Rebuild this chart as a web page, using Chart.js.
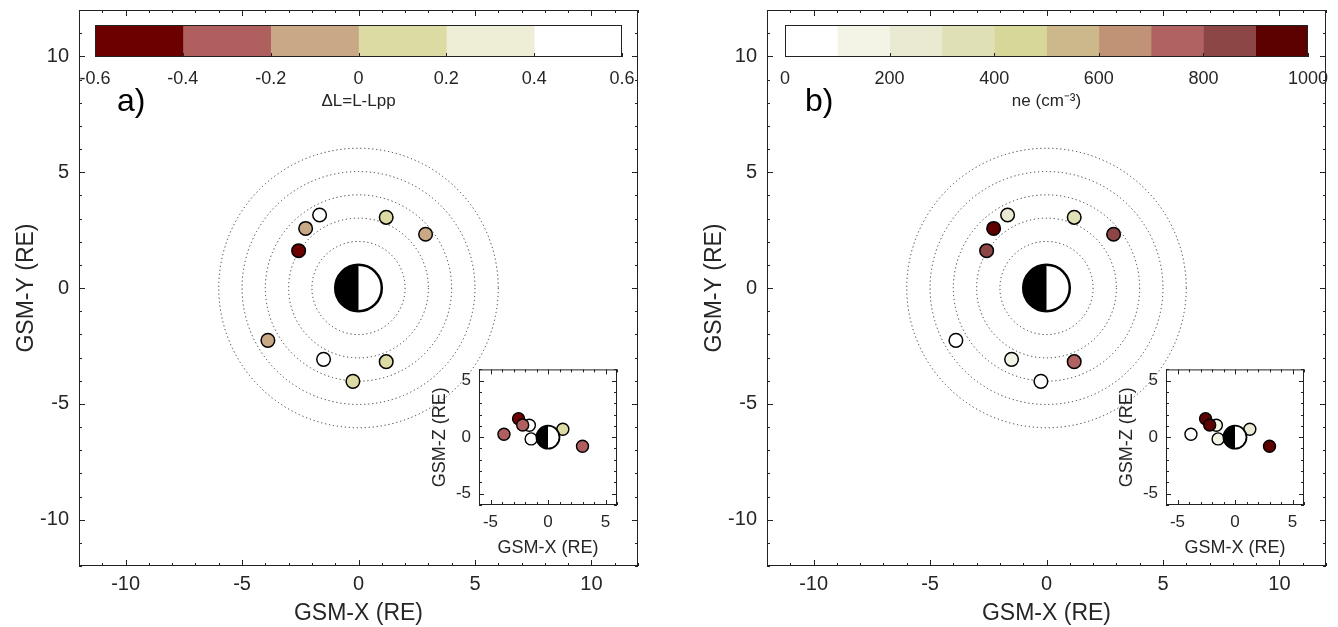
<!DOCTYPE html>
<html>
<head>
<meta charset="utf-8">
<script src="https://cdn.jsdelivr.net/npm/chart.js@4.4.0/dist/chart.umd.min.js"></script>
<style>
  body { margin: 0; background: #fff; width: 1338px; height: 627px; position: relative; overflow: hidden; }
  canvas { position: absolute; }
</style>
</head>
<body>
<canvas id="mainA" width="669" height="627" style="left:0;top:0"></canvas>
<canvas id="mainB" width="650" height="627" style="left:688px;top:0"></canvas>
<canvas id="barA" width="600" height="100" style="left:60px;top:15px"></canvas>
<canvas id="barB" width="588" height="100" style="left:750px;top:15px"></canvas>
<canvas id="insetA" width="200" height="200" style="left:425px;top:362px"></canvas>
<canvas id="insetB" width="200" height="200" style="left:1112px;top:362px"></canvas>
<script>
// orbit positions in the GSM X-Y plane (RE)
const orbitX = [-1.67, -2.27, -2.57, 1.19, 2.88, -3.89, -1.50, 1.19, -0.24];
const orbitY = [3.15, 2.57, 1.61, 3.05, 2.32, -2.26, -3.08, -3.18, -4.03];
const deltaL = [0.5, -0.1, -0.5, 0.1, -0.1, -0.1, 0.5, 0.1, 0.1];
const density = [250, 950, 850, 350, 850, 50, 150, 750, 50];

// same events seen in the X-Z plane
const insetX = [-2.56, -1.62, -2.20, -3.83, -1.47, 0.15, 1.29, 3.00];
const insetZ = [1.64, 1.06, 1.08, 0.26, -0.15, 0.35, 0.70, -0.80];
const insetDeltaL = [-0.5, 0.5, -0.3, -0.3, 0.5, 0.1, 0.1, -0.3];
const insetDensity = [950, 150, 950, 50, 150, 150, 250, 950];

const ringRadii = [2, 3, 4, 5, 6];
const earthRadius = 1;
const mainTicks = [-10, -5, 0, 5, 10];
const insetTicks = [-5, 0, 5];

const dLBounds = [-0.6, -0.4, -0.2, 0, 0.2, 0.4, 0.6];
const dLColors = ['#6c0000', '#b05f5f', '#c9a886', '#dcdba3', '#eeeed6', '#ffffff'];
const dLTicks = [-0.6, -0.4, -0.2, 0, 0.2, 0.4, 0.6];

const neBounds = [0, 100, 200, 300, 400, 500, 600, 700, 800, 900, 1000];
const neColors = ['#ffffff', '#f4f4e6', '#eaead2', '#e0e0b6', '#d7d79a', '#ccb88a', '#c09377', '#b06262', '#8c4646', '#5c0000'];
const neTicks = [0, 200, 400, 600, 800, 1000];

const FONT = "'Liberation Sans', Arial, Helvetica, sans-serif";
const INK = '#262626';
Chart.defaults.font.family = FONT;
Chart.defaults.color = INK;

function binColor(v, bounds, colors) {
  for (let i = 0; i < colors.length; i++) {
    if (v < bounds[i + 1]) return colors[i];
  }
  return colors[colors.length - 1];
}

const plotBg = {
  id: 'plotBg',
  beforeDraw(chart) {
    const { ctx, chartArea: a } = chart;
    ctx.save();
    ctx.fillStyle = '#fff';
    ctx.fillRect(a.left, a.top, a.right - a.left, a.bottom - a.top);
    ctx.restore();
  }
};

const rings = {
  id: 'rings',
  beforeDatasetsDraw(chart) {
    const { ctx, scales: { x, y } } = chart;
    const cx = x.getPixelForValue(0), cy = y.getPixelForValue(0);
    ctx.save();
    ctx.strokeStyle = '#333';
    ctx.lineWidth = 1;
    ctx.setLineDash([1.2, 2.8]);
    ringRadii.forEach(r => {
      const pr = x.getPixelForValue(r) - cx;
      ctx.beginPath();
      ctx.arc(cx, cy, pr, 0, 2 * Math.PI);
      ctx.stroke();
    });
    ctx.restore();
  }
};

const earth = {
  id: 'earth',
  afterDatasetsDraw(chart, args, opts) {
    const { ctx, scales: { x, y } } = chart;
    const cx = x.getPixelForValue(0), cy = y.getPixelForValue(0);
    const r = x.getPixelForValue(earthRadius) - cx;
    ctx.save();
    ctx.fillStyle = '#fff';
    ctx.beginPath(); ctx.arc(cx, cy, r, 0, 2 * Math.PI); ctx.fill();
    ctx.fillStyle = '#000';
    ctx.beginPath(); ctx.arc(cx, cy, r, Math.PI / 2, 3 * Math.PI / 2); ctx.closePath(); ctx.fill();
    ctx.strokeStyle = '#000';
    ctx.lineWidth = opts.width || 2.5;
    ctx.beginPath(); ctx.arc(cx, cy, r, 0, 2 * Math.PI); ctx.stroke();
    ctx.restore();
  }
};

// box round the plot with inward ticks on all four sides
const axisBox = {
  id: 'axisBox',
  afterDraw(chart, args, opts) {
    const { ctx, chartArea: a, scales: { x, y } } = chart;
    ctx.save();
    ctx.strokeStyle = '#222';
    ctx.lineWidth = 1;
    ctx.strokeRect(a.left + 0.5, a.top + 0.5, a.right - a.left - 1, a.bottom - a.top - 1);
    ctx.beginPath();
    for (let v = Math.ceil(x.min); v <= x.max; v += 1) {
      const px = Math.round(x.getPixelForValue(v)) + 0.5;
      const len = x.ticks.some(t => t.value === v) ? opts.major : opts.minor;
      ctx.moveTo(px, a.bottom); ctx.lineTo(px, a.bottom - len);
      ctx.moveTo(px, a.top); ctx.lineTo(px, a.top + len);
    }
    for (let v = Math.ceil(y.min); v <= y.max; v += 1) {
      const py = Math.round(y.getPixelForValue(v)) + 0.5;
      const len = y.ticks.some(t => t.value === v) ? opts.major : opts.minor;
      ctx.moveTo(a.left, py); ctx.lineTo(a.left + len, py);
      ctx.moveTo(a.right, py); ctx.lineTo(a.right - len, py);
    }
    ctx.stroke();
    if (opts.tag) {
      ctx.fillStyle = '#000';
      ctx.font = '32px ' + FONT;
      ctx.textBaseline = 'middle';
      ctx.fillText(opts.tag, a.left + 38, 102);
    }
    ctx.restore();
  }
};

const barBox = {
  id: 'barBox',
  afterDraw(chart) {
    const { ctx, chartArea: a, scales: { x } } = chart;
    ctx.save();
    ctx.strokeStyle = '#222';
    ctx.lineWidth = 1;
    ctx.strokeRect(a.left + 0.5, a.top + 0.5, a.right - a.left - 1, a.bottom - a.top - 1);
    ctx.beginPath();
    x.ticks.forEach(t => {
      const px = Math.round(x.getPixelForValue(t.value)) + 0.5;
      ctx.moveTo(px, a.bottom); ctx.lineTo(px, a.bottom - 4);
    });
    ctx.stroke();
    ctx.restore();
  }
};

function fixedTicks(list) {
  return s => { s.ticks = list.map(v => ({ value: v })); };
}
function fitX(h) {
  return s => { s.height = h; s.paddingLeft = 0; s.paddingRight = 0; };
}
function fitY(w) {
  return s => { s.width = w; s.paddingTop = 0; s.paddingBottom = 0; };
}

function makeMain(id, padRight, tag, vals, bounds, colors) {
  return new Chart(document.getElementById(id), {
    type: 'scatter',
    data: {
      datasets: [{
        data: orbitX.map((x, i) => ({ x, y: orbitY[i] })),
        pointBackgroundColor: vals.map(v => binColor(v, bounds, colors)),
        pointBorderColor: '#000',
        pointBorderWidth: 1.5,
        pointRadius: 6.8,
        pointHoverRadius: 6.8
      }]
    },
    options: {
      responsive: false, animation: false, events: [],
      layout: { padding: { top: 10, right: padRight, left: 0, bottom: 0 } },
      plugins: {
        legend: { display: false }, tooltip: { enabled: false },
        axisBox: { major: 6, minor: 3, tag }
      },
      scales: {
        x: {
          type: 'linear', min: -12, max: 12,
          afterBuildTicks: fixedTicks(mainTicks),
          afterFit: fitX(61),
          grid: { display: false, drawTicks: false }, border: { display: false },
          ticks: { padding: 6, font: { size: 20 }, color: INK },
          title: { display: true, text: 'GSM-X (RE)', font: { size: 23 }, color: INK, padding: { top: 0, bottom: 0 } }
        },
        y: {
          type: 'linear', min: -12, max: 12,
          afterBuildTicks: fixedTicks(mainTicks),
          afterFit: fitY(79),
          grid: { display: false, drawTicks: false }, border: { display: false },
          ticks: { padding: 10, font: { size: 20 }, color: INK },
          title: { display: true, text: 'GSM-Y (RE)', font: { size: 23 }, color: INK, padding: { top: 13, bottom: 0 } }
        }
      }
    },
    plugins: [rings, earth, axisBox]
  });
}

function makeInset(id, vals, bounds, colors) {
  return new Chart(document.getElementById(id), {
    type: 'scatter',
    data: {
      datasets: [{
        data: insetX.map((x, i) => ({ x, y: insetZ[i] })),
        pointBackgroundColor: vals.map(v => binColor(v, bounds, colors)),
        pointBorderColor: '#000',
        pointBorderWidth: 1.4,
        pointRadius: 6,
        pointHoverRadius: 6
      }]
    },
    options: {
      responsive: false, animation: false, events: [],
      layout: { padding: { top: 6, right: 8, left: 0, bottom: 0 } },
      plugins: {
        legend: { display: false }, tooltip: { enabled: false },
        axisBox: { major: 5, minor: 3 },
        earth: { width: 1.8 }
      },
      scales: {
        x: {
          type: 'linear', min: -6, max: 6,
          afterBuildTicks: fixedTicks(insetTicks),
          afterFit: fitX(57),
          grid: { display: false, drawTicks: false }, border: { display: false },
          ticks: { padding: 7, font: { size: 17 }, color: INK },
          title: { display: true, text: 'GSM-X (RE)', font: { size: 18 }, color: INK, padding: { top: 0, bottom: 3 } }
        },
        y: {
          type: 'linear', min: -6, max: 6,
          afterBuildTicks: fixedTicks(insetTicks),
          afterFit: fitY(54),
          grid: { display: false, drawTicks: false }, border: { display: false },
          ticks: { padding: 8, font: { size: 17 }, color: INK },
          title: { display: true, text: 'GSM-Z (RE)', font: { size: 18 }, color: INK, padding: { top: 4, bottom: 0 } }
        }
      }
    },
    plugins: [plotBg, earth, axisBox]
  });
}

function makeBar(id, padLeft, padRight, bounds, colors, tickList, title) {
  return new Chart(document.getElementById(id), {
    type: 'bar',
    data: {
      labels: ['cb'],
      datasets: colors.map((c, i) => ({
        data: [[bounds[i], bounds[i + 1]]],
        backgroundColor: c, borderWidth: 0,
        barPercentage: 1, categoryPercentage: 1, grouped: false
      }))
    },
    options: {
      indexAxis: 'y',
      responsive: false, animation: false, events: [],
      layout: { padding: { top: 10, right: padRight, left: padLeft, bottom: 0 } },
      plugins: { legend: { display: false }, tooltip: { enabled: false } },
      scales: {
        x: {
          type: 'linear', min: bounds[0], max: bounds[bounds.length - 1],
          afterBuildTicks: fixedTicks(tickList),
          afterFit: fitX(58),
          grid: { display: false, drawTicks: false }, border: { display: false },
          ticks: { padding: 11, font: { size: 18 }, color: INK, callback: v => String(v) },
          title: { display: true, text: title, font: { size: 17 }, color: INK, padding: { top: 0, bottom: 3 } }
        },
        y: { display: false }
      }
    },
    plugins: [barBox]
  });
}

makeMain('mainA', 31, 'a)', deltaL, dLBounds, dLColors);
makeMain('mainB', 12, 'b)', density, neBounds, neColors);
makeBar('barA', 35, 38, dLBounds, dLColors, dLTicks, 'ΔL=L-Lpp');
makeBar('barB', 35, 30, neBounds, neColors, neTicks, 'ne (cm⁻³)');
makeInset('insetA', insetDeltaL, dLBounds, dLColors);
makeInset('insetB', insetDensity, neBounds, neColors);
</script>
</body>
</html>
